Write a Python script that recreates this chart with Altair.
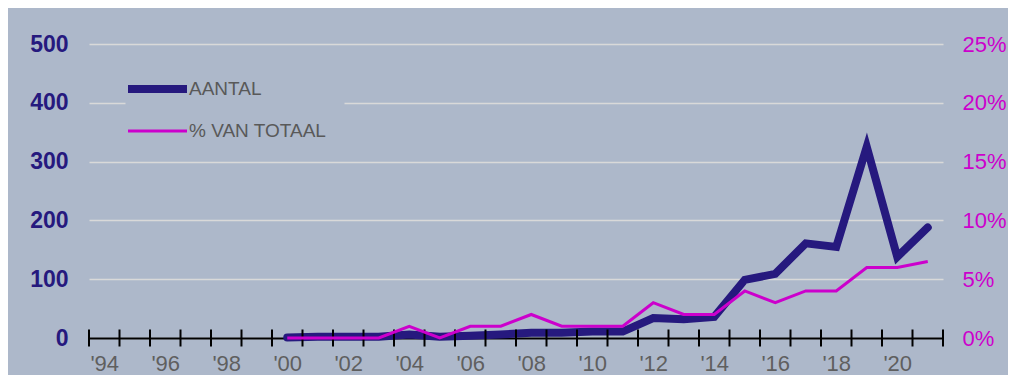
import json
import altair as alt
import pandas as pd

# ---- data ----
YEARS = list(range(2000, 2022))
AANTAL = [1, 2, 2, 2, 6, 2, 4, 6, 9, 9, 11, 11, 34, 32, 36, 99, 109, 161, 155, 325, 138, 188]
PCT = [0, 0, 0, 0, 1, 0, 1, 1, 2, 1, 1, 1, 3, 2, 2, 4, 3, 4, 4, 6, 6, 6.5]  # percent
SERIES = ["AANTAL", "% VAN TOTAAL"]
TICK_YEARS = list(range(1994, 2023))
LABEL_YEARS = list(range(1994, 2021, 2))
TICK_LABELS = ["'94", "'96", "'98", "'00", "'02", "'04", "'06", "'08", "'10",
               "'12", "'14", "'16", "'18", "'20"]
LEFT_TICKS = [0, 100, 200, 300, 400, 500]
RIGHT_TICKS = [0, 0.05, 0.10, 0.15, 0.20, 0.25]

# ---- styles ----
NAVY = "#26197E"
MAGENTA = "#CC00CC"
BG = "#ADB8CA"
GRID = "#D9D9D9"
FONT = "Liberation Sans"

aantal_df = pd.DataFrame({"year": YEARS, "value": AANTAL, "series": SERIES[0]})
pct_df = pd.DataFrame({"year": YEARS, "value": [p / 100 for p in PCT], "series": SERIES[1]})
ticks_df = pd.DataFrame({"year": TICK_YEARS})

x_scale = alt.Scale(domain=[1994, 2022], nice=False, zero=False)
label_expr = "[" + ",".join(json.dumps(l) for l in TICK_LABELS) + "][floor((datum.value - 1994) / 2)]"

x_axis = alt.Axis(
    values=[y + 0.5 for y in LABEL_YEARS], labelExpr=label_expr, title=None,
    ticks=False, tickSize=0, domain=True, domainColor="black", domainWidth=2,
    grid=False, labelPadding=15, labelFontSize=22, labelColor="#5F5F5F",
    labelFont=FONT, labelAngle=0,
)
left_axis = alt.Axis(
    values=LEFT_TICKS, orient="left", title=None, domain=False, ticks=False,
    labelPadding=21, labelFontSize=23, labelFontWeight="bold", labelColor=NAVY,
    labelFont=FONT, grid=True, gridColor=GRID, gridWidth=1.5,
)
right_axis = alt.Axis(
    values=RIGHT_TICKS, orient="right", format=".0%", title=None, domain=False,
    ticks=False, grid=False, labelPadding=19, labelFontSize=22, labelColor=MAGENTA,
    labelFont=FONT,
)

legend = alt.Legend(
    title=None, orient="none", legendX=36.5, legendY=13,
    symbolType="M-2.95,0H2.95", symbolSize=400, labelOffset=17.5,
    rowPadding=14.6, padding=18, fillColor=BG, labelFontSize=19,
    labelColor="#595959", labelFont=FONT, labelLimit=400,
)
color = alt.Color("series:N", scale=alt.Scale(domain=SERIES, range=[NAVY, MAGENTA]), legend=legend)
stroke_w = alt.StrokeWidth("series:N", scale=alt.Scale(type="point", domain=SERIES, range=[8, 3], padding=0),
                           legend=legend)

left_y_scale = alt.Scale(domain=[0, 500], nice=False, zero=True)
right_y_scale = alt.Scale(domain=[0, 0.25], nice=False, zero=True)

aantal_line = alt.Chart(aantal_df).transform_calculate(xm="datum.year + 0.5").mark_line(
    strokeCap="round", strokeJoin="miter"
).encode(
    x=alt.X("xm:Q", scale=x_scale, axis=x_axis),
    y=alt.Y("value:Q", scale=left_y_scale, axis=left_axis),
    color=color,
    strokeWidth=stroke_w,
)

ticks = alt.Chart(ticks_df).transform_calculate(zero="0").mark_tick(
    orient="vertical", size=17, thickness=2, color="black", opacity=1
).encode(
    x=alt.X("year:Q", scale=x_scale, axis=x_axis),
    y=alt.Y("zero:Q", scale=left_y_scale, axis=left_axis),
)

pct_line = alt.Chart(pct_df).transform_calculate(xm="datum.year + 0.5").mark_line(
    strokeCap="butt", strokeJoin="miter"
).encode(
    x=alt.X("xm:Q", scale=x_scale, axis=x_axis),
    y=alt.Y("value:Q", scale=right_y_scale, axis=right_axis),
    color=color,
    strokeWidth=stroke_w,
)

left = alt.layer(aantal_line, ticks)

chart = alt.layer(left, pct_line).resolve_scale(y="independent").properties(
    width=854, height=294, background=BG,
    padding={"left": 81, "top": 36, "right": 65, "bottom": 37},
    autosize=alt.AutoSizeParams(type="none"),
).configure_view(stroke=None)

chart.save("out.html", embed_options={"renderer": "svg", "actions": False})
